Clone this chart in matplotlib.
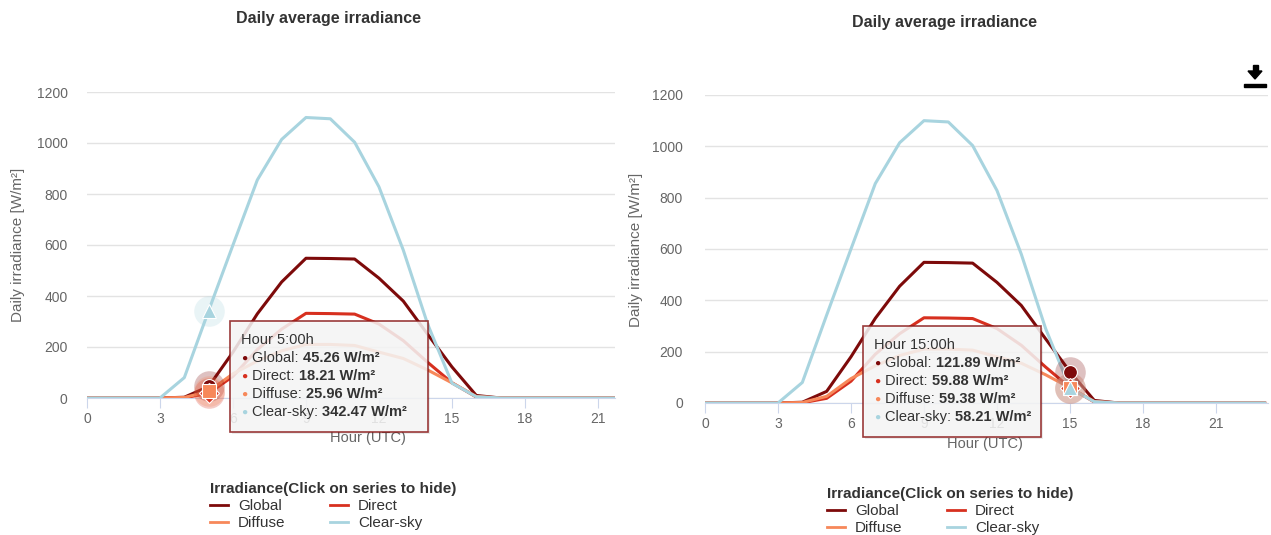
import numpy as np
import matplotlib
matplotlib.use('Agg')
import matplotlib.pyplot as plt
from matplotlib.patches import Rectangle, Polygon
from matplotlib.transforms import IdentityTransform
from matplotlib.lines import Line2D

plt.rcParams['font.family'] = ['Liberation Sans', 'DejaVu Sans']

# hourly averages, hours 0..23 (UTC)
hours = list(range(24))
global_irr = [0, 0, 0, 0, 3, 45.26, 180, 330, 455, 548, 547, 545,
              470, 380, 250, 121.89, 10, 0, 0, 0, 0, 0, 0, 0]
direct_irr = [0, 0, 0, 0, 1, 18.21, 85, 190, 270, 332, 331, 329,
              290, 225, 140, 59.88, 4, 0, 0, 0, 0, 0, 0, 0]
diffuse_irr = [0, 0, 0, 0, 2, 25.96, 95, 145, 185, 210, 210, 206,
               180, 155, 110, 59.38, 6, 0, 0, 0, 0, 0, 0, 0]
clearsky_irr = [0, 0, 0, 0, 80, 342.47, 600, 855, 1014, 1100, 1095, 1003,
                828, 580, 290, 58.21, 5, 0, 0, 0, 0, 0, 0, 0]

series_names = ['Global', 'Direct', 'Diffuse', 'Clear-sky']
series_vals = [global_irr, direct_irr, diffuse_irr, clearsky_irr]
series_colors = ['#7d0a0a', '#d7301f', '#f7885a', '#a8d4df']
series_markers = ['o', 'D', 's', '^']

x_ticks = [0, 3, 6, 9, 12, 15, 18, 21]
y_ticks = [0, 200, 400, 600, 800, 1000, 1200]

W, H = 1271, 535
fig = plt.figure(figsize=(W / 100, H / 100), dpi=100)

grey = '#666666'
dark = '#333333'
ident = IdentityTransform()


def draw_chart(rect, xmax, hover, box_at, box_w, ypad):
    ax = fig.add_axes(rect)
    for name, vals, col in zip(series_names, series_vals, series_colors):
        ax.plot(hours, vals, color=col, lw=2.2, label=name, zorder=3)
    ax.set_xlim(0, xmax)
    ax.set_ylim(0, 1200)
    ax.set_xticks(x_ticks)
    ax.set_yticks(y_ticks)
    ax.grid(axis='y', color='#e3e3e3', lw=1)
    ax.set_axisbelow(True)
    for s in ['top', 'right', 'left']:
        ax.spines[s].set_visible(False)
    ax.spines['bottom'].set_color('#ccd6eb')
    ax.tick_params(axis='x', colors='#ccd6eb', labelcolor=grey, length=7,
                   labelsize=10, pad=3)
    ax.tick_params(axis='y', length=0, labelcolor=grey, labelsize=10, pad=ypad)

    # hovered points with halo
    for vals, col in zip(series_vals, series_colors):
        ax.plot(hover, vals[hover], marker='o', ms=22, color=col, alpha=0.25,
                mec='none', zorder=4, clip_on=False)
    for vals, col, mk in zip(series_vals, series_colors, series_markers):
        ax.plot(hover, vals[hover], marker=mk, ms=10, color=col, mec='white',
                mew=0.8, zorder=5, clip_on=False)

    # tooltip
    renderer = fig.canvas.get_renderer()
    px, py = ax.transData.transform(box_at)
    bh = 111
    shadow = Rectangle((px + 2, py - bh - 2), box_w, bh, transform=ident,
                       facecolor='black', alpha=0.08, edgecolor='none', zorder=8)
    box = Rectangle((px, py - bh), box_w, bh, transform=ident,
                    facecolor='#f7f7f7', alpha=0.86, edgecolor='#8b1a1a', lw=1.2, zorder=9)
    fig.patches.extend([shadow, box])
    fig.text(px + 11, py - 19, 'Hour %d:00h' % hover, transform=ident,
             fontsize=10.5, color=dark, va='center', zorder=10)
    for i, (name, vals, col) in enumerate(zip(series_names, series_vals, series_colors)):
        yy = py - 37 - 18 * i
        fig.text(px + 11, yy, '\u25cf', transform=ident, fontsize=7.5,
                 color=col, va='center', zorder=10)
        t = fig.text(px + 22, yy, name + ': ', transform=ident,
                     fontsize=10.5, color=dark, va='center', zorder=10)
        bb = t.get_window_extent(renderer)
        fig.text(bb.x1, yy, '%.2f W/m\u00b2' % vals[hover], transform=ident,
                 fontsize=10.5, color=dark, fontweight='bold', va='center', zorder=10)
    return ax


ax1 = draw_chart([87 / W, 1 - 398 / H, (615 - 87) / W, 306 / H],
                 (615 - 87) / 24.33, 5, (5.88, 302), 198, 14)
ax2 = draw_chart([705 / W, 1 - 403 / H, (1268 - 705) / W, 308 / H],
                 (1268 - 705) / 24.33, 15, (6.5, 300), 178, 16)

# titles and axis labels
fig.text(328 / W, 1 - 19 / H, 'Daily average irradiance', ha='center', va='center',
         fontsize=11.5, fontweight='bold', color=dark)
fig.text(945 / W, 1 - 23 / H, 'Daily average irradiance', ha='center', va='center',
         fontsize=11.5, fontweight='bold', color=dark)
fig.text(18 / W, 1 - 245 / H, 'Daily irradiance [W/m\u00b2]', rotation=90,
         ha='center', va='center', fontsize=11, color=grey)
fig.text(636 / W, 1 - 250 / H, 'Daily irradiance [W/m\u00b2]', rotation=90,
         ha='center', va='center', fontsize=11, color=grey)
fig.text(368 / W, 1 - 438 / H, 'Hour (UTC)', ha='center', va='center',
         fontsize=10.5, color=grey, zorder=1)
fig.text(985 / W, 1 - 444 / H, 'Hour (UTC)', ha='center', va='center',
         fontsize=10.5, color=grey, zorder=1)

# legends
handles = [Line2D([], [], color=c, lw=2) for c in series_colors]
order = [0, 2, 1, 3]
for cx, cy in [(333, 474), (950, 479)]:
    leg = fig.legend([handles[i] for i in order], [series_names[i] for i in order],
                     ncol=2, loc='upper center', bbox_to_anchor=(cx / W, 1 - cy / H),
                     frameon=False, fontsize=11, title='Irradiance(Click on series to hide)',
                     title_fontproperties={'weight': 'bold', 'size': 11},
                     handlelength=1.2, handletextpad=0.65, columnspacing=2.9,
                     labelspacing=0.22, borderpad=0, alignment='left')
    for txt in leg.get_texts():
        txt.set_color(dark)
    leg.get_title().set_color(dark)

# download icon
icon = [Polygon([(1248 / W, 1 - 71 / H), (1262 / W, 1 - 71 / H), (1255 / W, 1 - 79 / H)],
                closed=True, transform=fig.transFigure, color='black'),
        Rectangle((1252.5 / W, 1 - 72 / H), 5 / W, 7 / H, transform=fig.transFigure,
                  color='black'),
        Rectangle((1244 / W, 1 - 87 / H), 22 / W, 3 / H, transform=fig.transFigure,
                  color='black')]
fig.patches.extend(icon)

fig.savefig('out.png', dpi=100, facecolor='white')
